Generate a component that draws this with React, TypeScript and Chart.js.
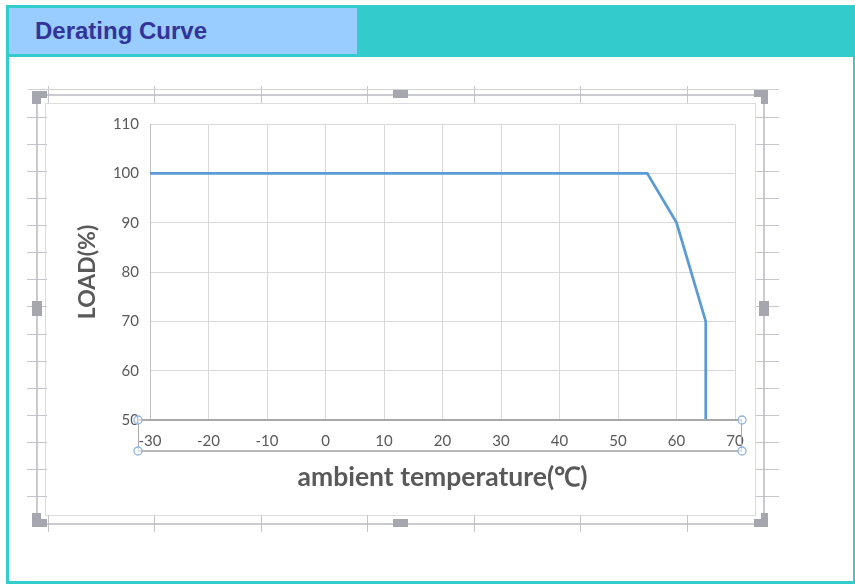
import React, { useEffect, useRef } from "react";
import { Chart, registerables } from "chart.js";

Chart.register(...registerables);

const headerTitle = "Derating Curve";
const xTitle = "ambient temperature(℃)";
const yTitle = "LOAD(%)";

const temperatures = [-30, -25, -20, -15, -10, -5, 0, 5, 10, 15, 20, 25, 30, 35, 40, 45, 50, 55, 60, 65, 65];
const loads = [100, 100, 100, 100, 100, 100, 100, 100, 100, 100, 100, 100, 100, 100, 100, 100, 100, 100, 90, 70, 50];

const xTickValues = [-30, -20, -10, 0, 10, 20, 30, 40, 50, 60, 70];
const yTickValues = [50, 60, 70, 80, 90, 100, 110];

const FRAME_LINE = "#b9b9c0";
const HANDLE = "#a5a6ae";

const framePlugin = {
  id: "excelFrame",
  beforeDraw(chart: any) {
    const ctx = chart.ctx as CanvasRenderingContext2D;
    ctx.save();
    ctx.fillStyle = "#ffffff";
    ctx.fillRect(45, 103, 711, 412);
    ctx.strokeStyle = "#dcdcdc";
    ctx.lineWidth = 1;
    ctx.strokeRect(45.5, 103.5, 710, 412);

    ctx.strokeStyle = "#c6c6cc";
    ctx.lineWidth = 1;
    const hx = [48, 154, 261, 367, 474, 580, 687];
    ctx.beginPath();
    for (const x of hx) {
      ctx.moveTo(x + 0.5, 86);
      ctx.lineTo(x + 0.5, 103);
      ctx.moveTo(x + 0.5, 515);
      ctx.lineTo(x + 0.5, 532);
    }
    for (let k = 0; k < 15; k++) {
      const y = Math.round(116.7 + 27.1 * k) + 0.5;
      ctx.moveTo(27, y);
      ctx.lineTo(47, y);
      ctx.moveTo(756, y);
      ctx.lineTo(779, y);
    }
    ctx.stroke();

    ctx.strokeStyle = "#cfcfd4";
    ctx.beginPath();
    ctx.moveTo(28, 89.5);
    ctx.lineTo(779, 89.5);
    ctx.stroke();

    ctx.strokeStyle = FRAME_LINE;
    ctx.lineWidth = 1.5;
    ctx.beginPath();
    ctx.moveTo(37, 95);
    ctx.lineTo(764, 95);
    ctx.moveTo(37, 524);
    ctx.lineTo(764, 524);
    ctx.moveTo(37, 95);
    ctx.lineTo(37, 524);
    ctx.moveTo(764, 95);
    ctx.lineTo(764, 524);
    ctx.stroke();
    ctx.restore();
  },
  afterDraw(chart: any) {
    const ctx = chart.ctx as CanvasRenderingContext2D;
    const xs = chart.scales.x;
    const ys = chart.scales.y;
    const left = xs.left - 12;
    const right = xs.right + 7;
    const top = ys.bottom;
    const bottom = ys.bottom + 31;
    ctx.save();
    ctx.strokeStyle = "#a9a9a9";
    ctx.lineWidth = 2;
    ctx.beginPath();
    ctx.moveTo(left, top);
    ctx.lineTo(right, top);
    ctx.stroke();
    ctx.strokeStyle = "#b8b8b8";
    ctx.beginPath();
    ctx.moveTo(left, bottom);
    ctx.lineTo(right, bottom);
    ctx.stroke();
    ctx.lineWidth = 1;
    ctx.strokeStyle = "#a9a9a9";
    ctx.beginPath();
    ctx.moveTo(left + 0.5, top);
    ctx.lineTo(left + 0.5, bottom);
    ctx.moveTo(right - 0.5, top);
    ctx.lineTo(right - 0.5, bottom);
    ctx.stroke();
    ctx.strokeStyle = "#8fb4e3";
    ctx.fillStyle = "rgba(255,255,255,0.6)";
    ctx.lineWidth = 1.3;
    for (const [cx, cy] of [
      [left, top],
      [right, top],
      [left, bottom],
      [right, bottom],
    ]) {
      ctx.beginPath();
      ctx.arc(cx, cy, 4, 0, Math.PI * 2);
      ctx.fill();
      ctx.stroke();
    }

    ctx.fillStyle = HANDLE;
    const poly = (pts: number[][]) => {
      ctx.beginPath();
      ctx.moveTo(pts[0][0], pts[0][1]);
      for (let i = 1; i < pts.length; i++) ctx.lineTo(pts[i][0], pts[i][1]);
      ctx.closePath();
      ctx.fill();
    };
    poly([[32, 91], [47, 91], [47, 98], [41, 98], [41, 104], [32, 104]]);
    poly([[754, 90], [768, 90], [768, 104], [761, 104], [761, 97], [754, 97]]);
    poly([[32, 513], [41, 513], [41, 519], [47, 519], [47, 527], [32, 527]]);
    poly([[761, 513], [768, 513], [768, 527], [754, 527], [754, 519], [761, 519]]);
    ctx.fillRect(393, 90, 15, 8);
    ctx.fillRect(393, 519, 15, 8);
    ctx.fillRect(32, 301, 10, 15);
    ctx.fillRect(759, 301, 10, 15);
    ctx.restore();
  },
};

function DeratingChart() {
  const canvasRef = useRef<HTMLCanvasElement | null>(null);

  useEffect(() => {
    if (!canvasRef.current) return;
    const chart = new Chart(canvasRef.current, {
      type: "line",
      data: {
        datasets: [
          {
            label: "Load",
            data: temperatures.map((t, i) => ({ x: t, y: loads[i] })),
            borderColor: "#5b9bd5",
            backgroundColor: "#5b9bd5",
            borderWidth: 2.75,
            pointRadius: 0,
            tension: 0,
            fill: false,
          },
        ],
      },
      options: {
        animation: false,
        responsive: true,
        maintainAspectRatio: false,
        events: [],
        layout: { padding: { left: 0, top: 124, right: 120, bottom: 0 } },
        plugins: { legend: { display: false }, tooltip: { enabled: false } },
        scales: {
          x: {
            type: "linear",
            min: -30,
            max: 70,
            afterBuildTicks: (scale: any) => {
              scale.ticks = xTickValues.map((v) => ({ value: v }));
            },
            afterFit: (scale: any) => {
              scale.height = 164;
            },
            grid: { color: "#d9d9d9", lineWidth: 1, drawTicks: false },
            border: { display: false },
            ticks: {
              color: "#595959",
              padding: 12,
              maxRotation: 0,
              font: { family: "Lato", size: 15 },
            },
            title: {
              display: true,
              text: xTitle,
              color: "#595959",
              font: { family: "Lato", size: 26.5, weight: "bold" },
              padding: { top: 0, bottom: 91 },
            },
          },
          y: {
            type: "linear",
            min: 50,
            max: 110,
            afterBuildTicks: (scale: any) => {
              scale.ticks = yTickValues.map((v) => ({ value: v }));
            },
            afterFit: (scale: any) => {
              scale.width = 150;
            },
            grid: { color: "#d9d9d9", lineWidth: 1, drawTicks: false },
            border: { display: true, color: "#bfbfbf", width: 1 },
            ticks: {
              color: "#595959",
              padding: 11,
              font: { family: "Lato", size: 15 },
            },
            title: {
              display: true,
              text: yTitle,
              color: "#595959",
              font: { family: "Lato", size: 23, weight: "bold" },
              padding: { top: 74, bottom: 0 },
            },
          },
        },
      },
      plugins: [framePlugin],
    } as any);
    return () => chart.destroy();
  }, []);

  return (
    <div style={{ position: "absolute", left: 0, top: 0, width: 855, height: 584, pointerEvents: "none" }}>
      <canvas ref={canvasRef} />
    </div>
  );
}

export default function App() {
  return (
    <div style={{ position: "absolute", left: 0, top: 0, width: 855, height: 584, background: "#ffffff", overflow: "hidden" }}>
      <div style={{ position: "absolute", left: 6, top: 5, width: 849, height: 579, background: "#33cccc" }} />
      <div style={{ position: "absolute", left: 9, top: 57, width: 844, height: 524, background: "#ffffff" }} />
      <div
        style={{
          position: "absolute",
          left: 9,
          top: 8,
          width: 348,
          height: 46,
          background: "#99ccff",
          boxSizing: "border-box",
          paddingLeft: 26,
          lineHeight: "46px",
          fontFamily: "'Liberation Sans', Arial, sans-serif",
          fontWeight: "bold",
          fontSize: 24,
          color: "#333399",
        }}
      >
        {headerTitle}
      </div>
      <DeratingChart />
    </div>
  );
}
